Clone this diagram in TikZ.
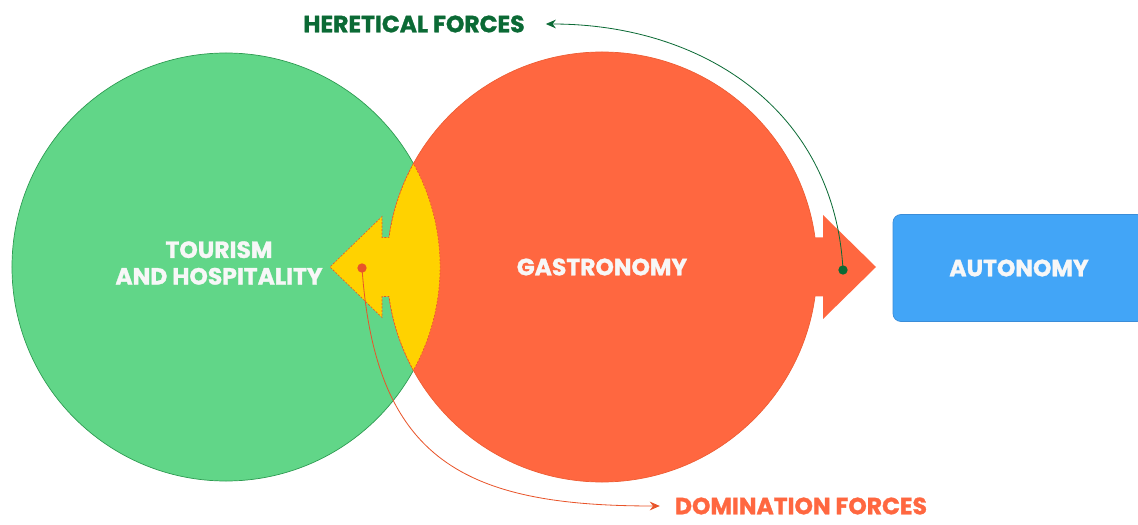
\documentclass[tikz,border=0pt]{standalone}
\usepackage{fontspec}
\setmainfont{Poppins}[BoldFeatures={FakeBold=1.3}]
\usepackage{tikz}
\usetikzlibrary{arrows.meta, positioning}

\definecolor{leafgreen}{HTML}{61D688}
\definecolor{leafedge}{HTML}{2E9B52}
\definecolor{coral}{HTML}{FF6740}
\definecolor{coraledge}{HTML}{EE5E35}
\definecolor{sun}{HTML}{FFD200}
\definecolor{sky}{HTML}{42A5F7}
\definecolor{skyedge}{HTML}{3B8DD8}
\definecolor{pine}{HTML}{0B6A35}
\definecolor{rust}{HTML}{E8542A}
\definecolor{snow}{HTML}{F7F7F7}

\begin{document}
\begin{tikzpicture}[x=0.03cm, y=0.03cm,
			field/.style={circle, draw, line width=0.6pt, inner sep=0pt, align=center,
				text=snow, font=\bfseries\fontsize{20}{22.7}\selectfont},
			goal/.style={rectangle, draw=skyedge, fill=sky, rounded corners=0.24cm,
				line width=0.6pt, minimum width=7.56cm, minimum height=3.21cm,
				text=snow, font=\bfseries\fontsize{20}{22.7}\selectfont},
			force/.style={inner sep=0pt, font=\bfseries\fontsize{20}{22.7}\selectfont},
			lens/.style={fill=sun, draw=rust, dash pattern=on 1.7pt off 1.3pt,
				line width=0.5pt},
			dot/.style={circle, inner sep=0pt, minimum size=0.28cm},
			arr/.style={-{Stealth[length=3mm, width=2.6mm]}, line width=0.7pt},
			]
			\useasboundingbox (0,0) rectangle (1138,524);
			
			% Circles
			\node[field, fill=leafgreen, draw=leafedge, minimum size=12.84cm] (tour)
			at (226,257) {};
			\node[field, fill=coral, draw=coraledge, minimum size=12.9cm] (gastro)
			at (602,257) {GASTRONOMY};
			\node[field, draw=none] (tourtxt) at (219,261) {TOURISM\\AND HOSPITALITY};
			
			% Outgoing arrow and goal
			\fill[coral] (805,286.5) -- (823,286.5) -- (823,309) -- (876,257)
			-- (823,205) -- (823,227.5) -- (805,227.5) -- cycle;
			\node[goal] (auto) at (1019,256) {AUTONOMY};
			
			% Overlap with arrow
			\filldraw[lens] ([shift={(151.3:215)}]gastro.center)
			arc[start angle=151.3, end angle=172.1, radius=215]
			-- (382,286.5) -- (382,307.5) -- (330,257) -- (382,206.5) -- (382,227.5)
			-- ([shift={(187.9:215)}]gastro.center)
			arc[start angle=187.9, end angle=208.7, radius=215]
			arc[start angle=-28.9, end angle=28.9, radius=214] -- cycle;
			
			% Forces
			\node[force, text=pine] (heret) at (414,500) {HERETICAL FORCES};
			\node[force, text=coral] (domin) at (801,18) {DOMINATION FORCES};
			\coordinate[right=6.3mm of heret.east] (htip);
			\coordinate[left=4.5mm of domin.west] (dtip);
			
			\node[dot, fill=pine] (hdot) at (843,254) {};
			\node[dot, fill=rust] (ddot) at (362,256) {};
			\draw[arr, pine] (hdot.center) to[out=93, in=0, looseness=1.05] (htip);
			\draw[arr, rust] (ddot.center) to[out=-86, in=180, looseness=1.3] (dtip);
		\end{tikzpicture}
\end{document}
